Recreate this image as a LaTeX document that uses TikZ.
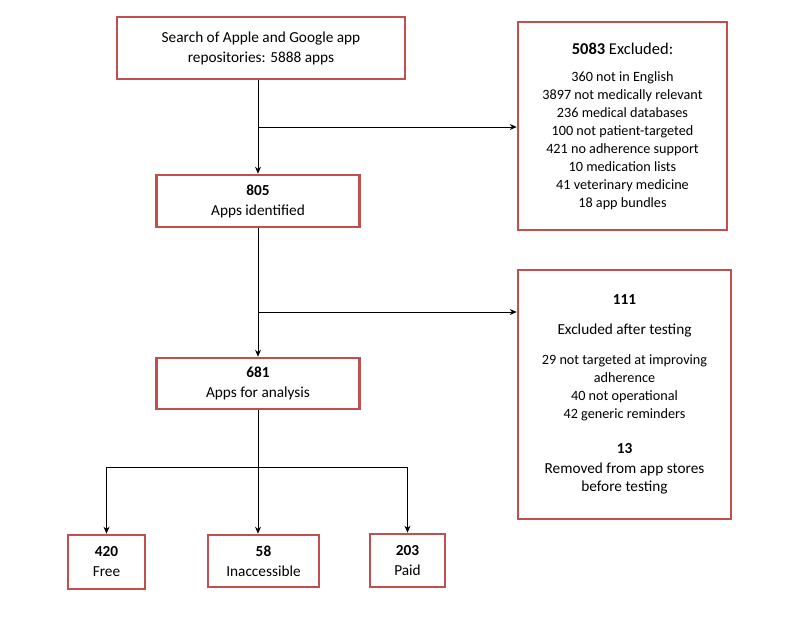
\documentclass[tikz,border=0pt]{standalone}
\usepackage{fontspec}
\setmainfont{Carlito}
\usetikzlibrary{arrows.meta}
\definecolor{boxred}{HTML}{C0504D}
\newcommand{\bigtxt}{\fontsize{15.3}{20}\selectfont}
\begin{document}
\begin{tikzpicture}[x=1pt,y=-1pt,
  box/.style={draw=boxred,line width=2.6pt,fill=white,align=center,inner sep=0pt,
    font=\fontsize{14.2}{18}\selectfont},
  bigbox/.style={box,font=\bigtxt},
  arr/.style={line width=0.8pt,-{Stealth[length=7pt,width=6pt]}},
  ln/.style={line width=0.8pt}]
\useasboundingbox (0,0) rectangle (800,619);
\node[bigbox,minimum width=288pt,minimum height=62pt] (search) at (261,48)
  {Search of Apple and Google app\\repositories: 5888 apps};
\node[box,minimum width=209pt,minimum height=208pt] (ex1) at (622.5,126)
  {{\fontsize{16.5}{18}\selectfont\textbf{5083} Excluded:}\\[9pt]
   360 not in English\\
   3897 not medically relevant\\
   236 medical databases\\
   100 not patient-targeted\\
   421 no adherence support\\
   10 medication lists\\
   41 veterinary medicine\\
   18 app bundles};
\node[bigbox,minimum width=203pt,minimum height=52pt] (id) at (258,201)
  {\textbf{805}\\Apps identified};
\node[box,minimum width=213pt,minimum height=249pt] (ex2) at (624.5,394.5)
  {{\bigtxt\textbf{111}}\\[12pt]
   {\bigtxt Excluded after testing}\\[12pt]
   29 not targeted at improving\\
   adherence\\
   40 not operational\\
   42 generic reminders\\[17pt]
   {\bigtxt\textbf{13}}\\[2pt]
   {\bigtxt Removed from app stores}\\
   {\bigtxt before testing}};
\node[bigbox,minimum width=203pt,minimum height=51pt] (an) at (258,383.5)
  {\textbf{681}\\Apps for analysis};
\node[bigbox,minimum width=77pt,minimum height=54pt] (free) at (106.5,562)
  {\textbf{420}\\Free};
\node[bigbox,minimum width=111pt,minimum height=52pt] (inac) at (263.5,561)
  {\textbf{58}\\Inaccessible};
\node[bigbox,minimum width=75pt,minimum height=53pt] (paid) at (407.5,560.5)
  {\textbf{203}\\Paid};
% connectors
\draw[arr] (search.south -| id.north) -- (id.north);
\coordinate (b1) at (258,127);
\draw[arr] (b1) -- (b1 -| ex1.west);
\draw[arr] (id.south) -- (an.north);
\coordinate (b2) at (258,312);
\draw[arr] (b2) -- (b2 -| ex2.west);
\draw[arr] (an.south) -- (an.south |- inac.north);
\coordinate (h) at (258,467);
\draw[ln] (h -| free.north) -- (h -| paid.north);
\draw[arr] (h -| free.north) -- (free.north);
\draw[arr] (h -| paid.north) -- (paid.north);
\end{tikzpicture}
\end{document}
